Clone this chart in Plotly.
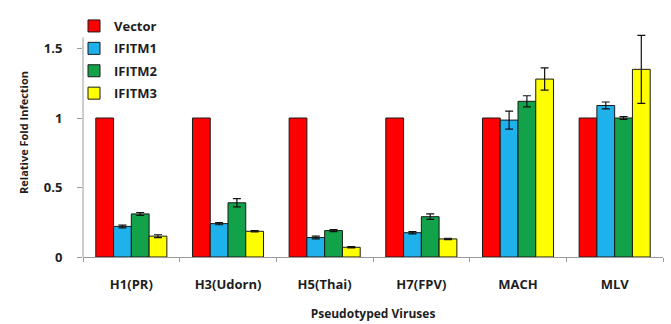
import plotly.graph_objects as go

# Pseudotyped virus panel and measured relative infection
viruses = ["H1(PR)", "H3(Udorn)", "H5(Thai)", "H7(FPV)", "MACH", "MLV"]
series_names = ["Vector", "IFITM1", "IFITM2", "IFITM3"]
vector = [1.0, 1.0, 1.0, 1.0, 1.0, 1.0]
ifitm1 = [0.22, 0.24, 0.14, 0.175, 0.985, 1.09]
ifitm2 = [0.31, 0.39, 0.19, 0.29, 1.12, 1.0]
ifitm3 = [0.15, 0.185, 0.07, 0.13, 1.28, 1.35]
vector_err = [0, 0, 0, 0, 0, 0]
ifitm1_err = [0.01, 0.008, 0.01, 0.008, 0.065, 0.025]
ifitm2_err = [0.01, 0.03, 0.008, 0.02, 0.04, 0.01]
ifitm3_err = [0.01, 0.005, 0.005, 0.005, 0.08, 0.245]
colors = ["#ff0000", "#1eb1ec", "#12a24a", "#ffff00"]
y_ticks = [0, 0.5, 1, 1.5]
y_tick_text = ["0", "0.5", "1", "1.5"]

values = [vector, ifitm1, ifitm2, ifitm3]
errors = [vector_err, ifitm1_err, ifitm2_err, ifitm3_err]

fig = go.Figure()
for name, vals, errs, col in zip(series_names, values, errors, colors):
    show_err = any(e > 0 for e in errs)
    fig.add_trace(go.Bar(
        name=name, x=viruses, y=vals, legendgroup=name,
        marker=dict(color=col, line=dict(color="#1a1a1a", width=1)),
        error_y=dict(type="data", array=errs, visible=show_err,
                     color="#111111", thickness=1.2, width=4),
    ))

font_family = "'Open Sans', Lato, Arial, sans-serif"
text_col = "#1e1e1e"

# figure geometry (px)
W, HT = 671, 324
ML, MR, MT, MB = 83, 8, 8, 67
PW, PH = W - ML - MR, HT - MT - MB
px_x = lambda px: (px - ML) / PW
px_y = lambda py: (HT - MB - py) / PH

# value axis line stops just above the top tick
fig.add_shape(type="line", xref="paper", yref="y",
              x0=0, x1=0, y0=0, y1=1.58,
              line=dict(color="#9a9a9a", width=1))

fig.update_layout(
    width=W, height=HT,
    margin=dict(l=ML, r=MR, t=MT, b=MB),
    paper_bgcolor="white",
    plot_bgcolor="rgba(0,0,0,0)",
    barmode="group",
    bargap=0.265,
    bargroupgap=0,
    font=dict(family=font_family, size=12, color=text_col),
    showlegend=True,
    legend=dict(x=px_x(74), y=px_y(11), xanchor="left", yanchor="top",
                bgcolor="rgba(0,0,0,0)", tracegroupgap=2.5,
                font=dict(family=font_family, size=13, color=text_col, weight="bold"),
                traceorder="grouped"),
    xaxis=dict(
        automargin=False,
        showline=True, linecolor="#9a9a9a", linewidth=1,
        ticks="outside", ticklen=4, tickcolor="#9a9a9a",
        tickson="boundaries", ticklabelstandoff=15,
        tickfont=dict(family=font_family, size=13, color=text_col, weight="bold"),
        title=dict(text="Pseudotyped Viruses", standoff=18,
                   font=dict(family=font_family, size=12, color=text_col, weight="bold")),
        showgrid=False, zeroline=False,
    ),
    yaxis=dict(
        automargin=False,
        range=[0, PH / 139.0],
        tickvals=y_ticks,
        ticktext=y_tick_text,
        showline=False,
        ticks="outside", ticklen=5, tickcolor="#9a9a9a",
        ticklabelstandoff=12,
        tickfont=dict(family=font_family, size=13, color=text_col, weight="bold"),
        title=dict(text="Relative Fold Infection", standoff=12,
                   font=dict(family=font_family, size=11, color=text_col, weight="bold")),
        showgrid=False, zeroline=False,
    ),
)

fig.write_html("out.html")
